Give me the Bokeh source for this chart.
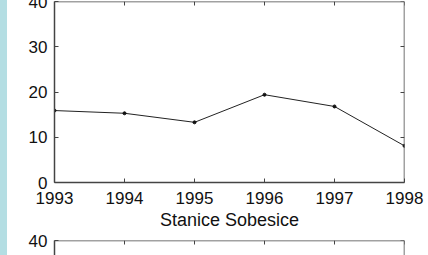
from bokeh.plotting import figure
from bokeh.layouts import column
from bokeh.models import LinearAxis, FixedTicker, Range1d
from bokeh.embed import file_html
from bokeh.resources import INLINE

# data
years = [1993, 1994, 1995, 1996, 1997, 1998]
values = [15.9, 15.3, 13.3, 19.4, 16.8, 8.1]
y_ticks = [0, 10, 20, 30, 40]
x_label = "Stanice Sobesice"

FONT = "Liberation Sans"
TXT = "#111111"
AX = "#444444"

W = 428
SHIFT = 6
H1, H2 = 232 + SHIFT, 23
TOP1, BOT1 = 7, 50
TOP2 = 8
frame1_h = H1 - TOP1 - BOT1
frame2_h = H2 - TOP2


def style_axis(ax, ticks, labels=True):
    ax.axis_line_color = AX
    ax.axis_line_width = 1.5
    ax.major_tick_in = 4
    ax.major_tick_out = 0
    ax.major_tick_line_color = AX
    ax.minor_tick_line_color = None
    if labels:
        ax.major_label_text_font = FONT
        ax.major_label_text_font_size = "17px"
        ax.major_label_text_color = TXT
    else:
        ax.major_label_overrides = {t: "" for t in ticks}
        ax.major_label_text_font_size = "1px"
        ax.major_label_standoff = 0


def make_fig(h, top, bottom, y_start, show_x):
    p = figure(width=W, height=h, output_backend="svg", toolbar_location=None,
               x_range=Range1d(years[0], years[-1]), y_range=Range1d(y_start, y_ticks[-1]),
               min_border_left=54, min_border_right=24, min_border_top=top,
               min_border_bottom=bottom, x_axis_location=None, y_axis_location=None)
    p.title.visible = False
    p.border_fill_color = None
    p.background_fill_color = "white"
    p.outline_line_color = None
    p.grid.visible = False

    yl = LinearAxis(ticker=FixedTicker(ticks=y_ticks))
    style_axis(yl, y_ticks)
    yl.major_label_standoff = 7
    p.add_layout(yl, "left")

    yr = LinearAxis(ticker=FixedTicker(ticks=y_ticks), fixed_location=years[-1])
    style_axis(yr, y_ticks, labels=False)
    p.add_layout(yr, "right")

    xt = LinearAxis(ticker=FixedTicker(ticks=years), fixed_location=y_ticks[-1])
    style_axis(xt, years, labels=False)
    p.add_layout(xt, "above")

    if show_x:
        xb = LinearAxis(ticker=FixedTicker(ticks=years))
        style_axis(xb, years)
        xb.major_label_standoff = 9
        xb.axis_label = x_label
        xb.axis_label_text_font = FONT
        xb.axis_label_text_font_size = "18px"
        xb.axis_label_text_font_style = "normal"
        xb.axis_label_text_color = TXT
        xb.axis_label_standoff = 3
        p.add_layout(xb, "below")
    return p


p1 = make_fig(H1, TOP1, BOT1, y_ticks[0], True)
p1.line(years, values, line_color="#222222", line_width=1)
p1.scatter(years, values, size=3, color="#111111")

y2_start = y_ticks[-1] - (y_ticks[-1] - y_ticks[0]) * frame2_h / frame1_h
p2 = make_fig(H2, TOP2, 0, y2_start, False)

layout = column(p1, p2, spacing=0, styles={
    "margin-top": f"-{SHIFT}px",
    "background": "linear-gradient(to right, #b4dee3 7px, #ffffff 7px)"})

open("out.html", "w").write(file_html(layout, INLINE))
